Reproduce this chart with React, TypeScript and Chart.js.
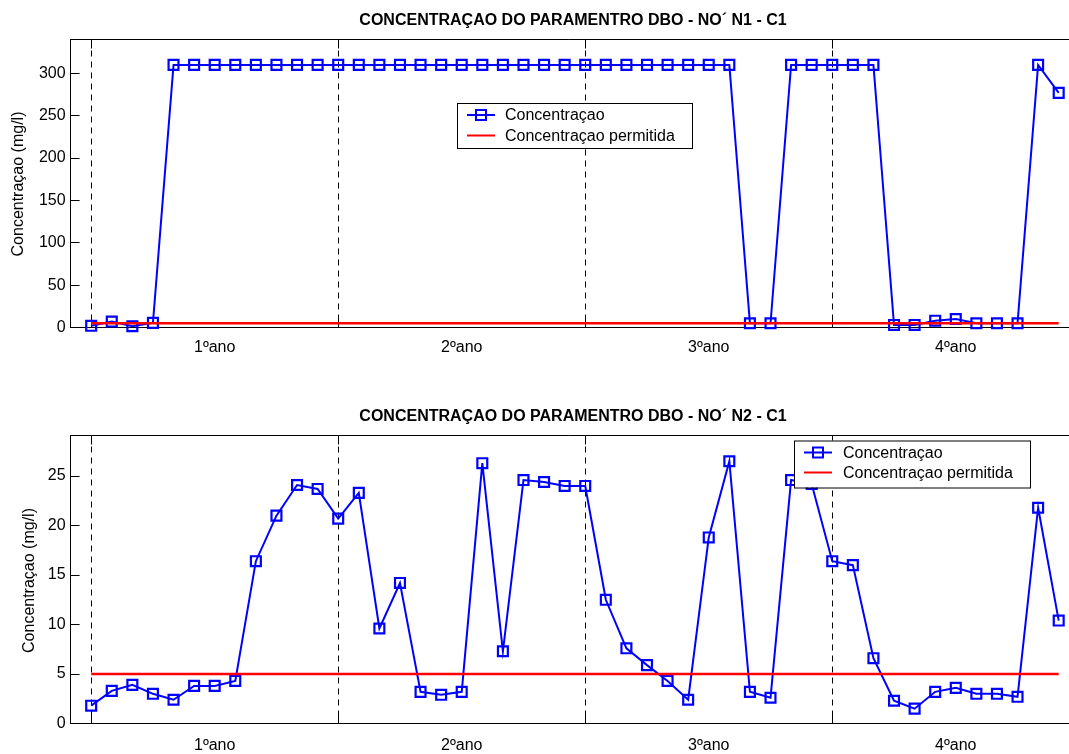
import React, { useEffect, useRef } from "react";
import { Chart, registerables } from "chart.js";

Chart.register(...registerables);

// ---------- data ----------
const months = [
  1, 2, 3, 4, 5, 6, 7, 8, 9, 10, 11, 12,
  13, 14, 15, 16, 17, 18, 19, 20, 21, 22, 23, 24,
  25, 26, 27, 28, 29, 30, 31, 32, 33, 34, 35, 36,
  37, 38, 39, 40, 41, 42, 43, 44, 45, 46, 47, 48,
];

const n1Values = [
  2, 7, 1.5, 5.5, 310, 310, 310, 310, 310, 310, 310, 310,
  310, 310, 310, 310, 310, 310, 310, 310, 310, 310, 310, 310,
  310, 310, 310, 310, 310, 310, 310, 310, 5, 5, 310, 310,
  310, 310, 310, 3, 3, 8, 10, 5, 5, 5, 310, 277,
];

const n2Values = [
  1.8, 3.3, 3.9, 3.0, 2.4, 3.8, 3.8, 4.3, 16.4, 21.0, 24.1, 23.7,
  20.7, 23.3, 9.6, 14.2, 3.2, 2.9, 3.2, 26.3, 7.3, 24.6, 24.4, 24.0,
  24.0, 12.5, 7.6, 5.9, 4.3, 2.4, 18.8, 26.5, 3.2, 2.6, 24.6, 24.2,
  16.4, 16.0, 6.6, 2.3, 1.5, 3.2, 3.6, 3.0, 3.0, 2.7, 21.8, 10.4,
];

const permittedLimit = 5;

const yearGridMonths = [1, 13, 25, 37];
const yearLabelMonths = [7, 19, 31, 43];
const yearLabels = ["1ºano", "2ºano", "3ºano", "4ºano"];

const n1YTicks = [0, 50, 100, 150, 200, 250, 300];
const n2YTicks = [0, 5, 10, 15, 20, 25];

const n1Title = "CONCENTRAÇAO DO PARAMENTRO DBO - NO´ N1 - C1";
const n2Title = "CONCENTRAÇAO DO PARAMENTRO DBO - NO´ N2 - C1";
const yAxisTitle = "Concentraçao (mg/l)";
const legendLabels = ["Concentraçao", "Concentraçao permitida"];

// ---------- drawing ----------
const FONT = "'Liberation Sans', Arial, Helvetica, sans-serif";
const BLUE = "rgb(0,0,255)";
const RED = "rgb(255,0,0)";

const framePlugin = {
  id: "frame",
  beforeDatasetsDraw(chart: any, _args: any, opts: any) {
    const { ctx, chartArea: a, scales } = chart;
    const xs = scales.x;
    const ys = scales.y;
    ctx.save();
    // dashed year grid lines
    ctx.strokeStyle = "#000";
    ctx.lineWidth = 1;
    ctx.setLineDash([6, 5]);
    for (const m of opts.gridX) {
      const px = Math.round(xs.getPixelForValue(m) - 0.5) + 0.5;
      ctx.beginPath();
      ctx.moveTo(px, a.top);
      ctx.lineTo(px, a.bottom);
      ctx.stroke();
    }
    ctx.setLineDash([]);
    // x ticks (inside, top & bottom)
    for (const m of opts.gridX) {
      const px = Math.round(xs.getPixelForValue(m) - 0.5) + 0.5;
      ctx.beginPath();
      ctx.moveTo(px, a.bottom);
      ctx.lineTo(px, a.bottom - 9);
      ctx.moveTo(px, a.top);
      ctx.lineTo(px, a.top + 9);
      ctx.stroke();
    }
    // y ticks (inside)
    for (const v of opts.yTicks) {
      const py = Math.round(ys.getPixelForValue(v) - 0.5) + 0.5;
      ctx.beginPath();
      ctx.moveTo(a.left, py);
      ctx.lineTo(a.left + 9, py);
      ctx.stroke();
    }
    // top border
    ctx.beginPath();
    ctx.moveTo(a.left, a.top);
    ctx.lineTo(a.right, a.top);
    ctx.stroke();
    ctx.restore();
  },
  afterDraw(chart: any, _args: any, opts: any) {
    const { ctx, scales } = chart;
    const xs = scales.x;
    ctx.save();
    ctx.fillStyle = "#000";
    // title
    ctx.font = `bold 16px ${FONT}`;
    ctx.textAlign = "center";
    ctx.textBaseline = "middle";
    ctx.fillText(opts.title, opts.titleX, opts.titleY);
    // year labels
    ctx.font = `16px ${FONT}`;
    yearLabels.forEach((lab, i) => {
      ctx.fillText(lab, xs.getPixelForValue(yearLabelMonths[i]), opts.yearLabelY);
    });
    // y axis title
    ctx.save();
    ctx.translate(opts.yTitleX, opts.yTitleY);
    ctx.rotate(-Math.PI / 2);
    ctx.fillText(yAxisTitle, 0, 0);
    ctx.restore();
    // legend
    const L = opts.legend;
    ctx.fillStyle = "#fff";
    ctx.fillRect(L.left, L.top, L.right - L.left, L.bottom - L.top);
    ctx.strokeStyle = "#000";
    ctx.lineWidth = 1;
    ctx.strokeRect(L.left + 0.5, L.top + 0.5, L.right - L.left, L.bottom - L.top);
    // row 1
    ctx.strokeStyle = BLUE;
    ctx.lineWidth = 2;
    ctx.beginPath();
    ctx.moveTo(L.lineX1, L.row1);
    ctx.lineTo(L.lineX2, L.row1);
    ctx.stroke();
    const mx = (L.lineX1 + L.lineX2) / 2;
    ctx.strokeRect(mx - 5, L.row1 - 5, 10, 10);
    // row 2
    ctx.strokeStyle = RED;
    ctx.lineWidth = 2;
    ctx.beginPath();
    ctx.moveTo(L.lineX1, L.row2);
    ctx.lineTo(L.lineX2, L.row2);
    ctx.stroke();
    ctx.fillStyle = "#000";
    ctx.font = `16px ${FONT}`;
    ctx.textAlign = "left";
    ctx.textBaseline = "middle";
    ctx.fillText(legendLabels[0], L.textX, L.row1 + 1);
    ctx.fillText(legendLabels[1], L.textX, L.row2 + 1);
    ctx.restore();
  },
};

function buildChart(canvas: HTMLCanvasElement, cfg: any) {
  const H = canvas.height;
  return new Chart(canvas, {
    type: "line",
    data: {
      datasets: [
        {
          data: [
            { x: months[0], y: permittedLimit },
            { x: months[months.length - 1], y: permittedLimit },
          ],
          borderColor: RED,
          borderWidth: 2.5,
          pointRadius: 0,
          clip: false,
        },
        {
          data: months.map((m, i) => ({ x: m, y: cfg.values[i] })),
          borderColor: BLUE,
          borderWidth: 2,
          pointStyle: "rect",
          pointRadius: 7,
          pointBorderWidth: 2.2,
          pointBorderColor: BLUE,
          pointBackgroundColor: "rgba(0,0,0,0)",
          tension: 0,
          clip: false,
        },
      ],
    },
    options: {
      animation: false,
      responsive: false,
      devicePixelRatio: 1,
      events: [],
      layout: {
        autoPadding: false,
        padding: { top: cfg.plotTop, left: 0, right: 0, bottom: 0 },
      },
      plugins: {
        legend: { display: false },
        title: { display: false },
        tooltip: { enabled: false },
        frame: cfg.frame,
      },
      scales: {
        x: {
          type: "linear",
          min: 0,
          max: 48.5,
          ticks: { display: false },
          grid: { display: false, drawTicks: false },
          border: { display: true, color: "#000", width: 1 },
          afterFit: (s: any) => {
            s.height = H - cfg.plotBottom;
            s.paddingLeft = 0;
            s.paddingRight = 0;
          },
        },
        y: {
          min: 0,
          max: cfg.yMax,
          afterBuildTicks: (s: any) => {
            s.ticks = cfg.yTicks.map((v: number) => ({ value: v }));
          },
          ticks: {
            color: "#000",
            font: { family: FONT, size: 16 },
            padding: 5,
          },
          grid: { display: false, drawTicks: false },
          border: { display: true, color: "#000", width: 1 },
          afterFit: (s: any) => {
            s.width = 70.6;
          },
        },
      },
    },
    plugins: [framePlugin],
  } as any);
}

export default function App() {
  const topRef = useRef<HTMLCanvasElement>(null);
  const botRef = useRef<HTMLCanvasElement>(null);

  useEffect(() => {
    const c1 = buildChart(topRef.current!, {
      values: n1Values,
      yMax: 340,
      yTicks: n1YTicks,
      plotTop: 39.5,
      plotBottom: 327.5,
      frame: {
        gridX: yearGridMonths,
        yTicks: n1YTicks,
        title: n1Title,
        titleX: 573,
        titleY: 20.5,
        yearLabelY: 348,
        yTitleX: 19,
        yTitleY: 184,
        legend: {
          left: 457,
          right: 692,
          top: 103,
          bottom: 148,
          lineX1: 467,
          lineX2: 495,
          textX: 505,
          row1: 115,
          row2: 135.5,
        },
      },
    });
    const c2 = buildChart(botRef.current!, {
      values: n2Values,
      yMax: 29.1,
      yTicks: n2YTicks,
      plotTop: 58.5,
      plotBottom: 346.5,
      frame: {
        gridX: yearGridMonths,
        yTicks: n2YTicks,
        title: n2Title,
        titleX: 573,
        titleY: 39.5,
        yearLabelY: 369,
        yTitleX: 29.5,
        yTitleY: 203.5,
        legend: {
          left: 794,
          right: 1030,
          top: 63.5,
          bottom: 110.5,
          lineX1: 804,
          lineX2: 832,
          textX: 843,
          row1: 75.5,
          row2: 95.5,
        },
      },
    });
    return () => {
      c1.destroy();
      c2.destroy();
    };
  }, []);

  return (
    <div
      style={{
        position: "fixed",
        left: 0,
        top: 0,
        width: 1069,
        height: 754,
        background: "#fff",
        overflow: "hidden",
      }}
    >
      <canvas ref={topRef} width={1069} height={377} style={{ display: "block" }} />
      <canvas ref={botRef} width={1069} height={377} style={{ display: "block" }} />
    </div>
  );
}
